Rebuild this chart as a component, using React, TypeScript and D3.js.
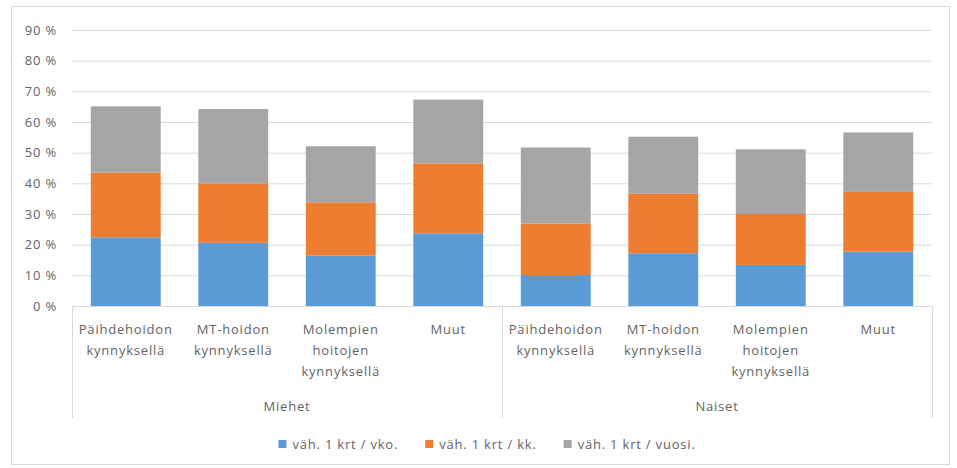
import React, { useEffect, useRef } from "react";
import * as d3 from "d3";

const groups = ["Miehet", "Naiset"];
const subCategories = [
  ["Päihdehoidon", "kynnyksellä"],
  ["MT-hoidon", "kynnyksellä"],
  ["Molempien", "hoitojen", "kynnyksellä"],
  ["Muut"],
];
const seriesNames = ["väh. 1 krt / vko.", "väh. 1 krt / kk.", "väh. 1 krt / vuosi."];
const weekly = [22.4, 20.6, 16.4, 23.7, 10.1, 17.2, 13.4, 17.7];
const monthly = [21.1, 19.4, 17.4, 22.8, 16.8, 19.5, 16.6, 19.5];
const yearly = [21.6, 24.2, 18.3, 20.8, 24.8, 18.5, 21.1, 19.4];
const yTicks = [0, 10, 20, 30, 40, 50, 60, 70, 80, 90];
const colors = ["#5B9BD5", "#ED7D31", "#A5A5A5"];

const W = 957;
const H = 468;

export default function App() {
  const ref = useRef<SVGSVGElement>(null);

  useEffect(() => {
    const svg = d3.select(ref.current);
    svg.selectAll("*").remove();

    const font = "'Open Sans', 'Noto Sans', sans-serif";
    const textColor = "#636363";
    const ls = 0.8;

    // chart border
    svg.append("rect").attr("x", 11.5).attr("y", 6.5).attr("width", 938).attr("height", 458)
      .attr("fill", "#fff").attr("stroke", "#D9D9D9").attr("stroke-width", 1);

    const left = 72, right = 932, top = 30, bottom = 306;
    const n = weekly.length;
    const idx = d3.range(n);
    const x = d3.scaleBand<number>().domain(idx).range([left, right]).paddingInner(0.35).paddingOuter(0.175);
    const y = d3.scaleLinear().domain([0, 90]).range([bottom, top]);

    // gridlines
    svg.append("g").selectAll("line").data(yTicks).join("line")
      .attr("x1", left).attr("x2", right)
      .attr("y1", (d) => y(d) + 0.5).attr("y2", (d) => y(d) + 0.5)
      .attr("stroke", "#D9D9D9").attr("stroke-width", 1);

    // y labels
    svg.append("g").selectAll("text").data(yTicks).join("text")
      .attr("x", 57).attr("y", (d) => y(d)).attr("dy", "0.35em")
      .attr("text-anchor", "end").attr("font-family", font).attr("font-size", 13)
      .attr("letter-spacing", ls)
      .attr("fill", textColor).text((d) => `${d} %`);

    // stacked bars
    const rows = idx.map((i) => ({ i, a: weekly[i], b: monthly[i], c: yearly[i] }));
    const stack = d3.stack<any>().keys(["a", "b", "c"]);
    const stacked = stack(rows);
    svg.append("g").selectAll("g").data(stacked).join("g")
      .attr("fill", (_d, k) => colors[k])
      .selectAll("rect").data((d) => d).join("rect")
      .attr("x", (d: any) => x(d.data.i)!)
      .attr("width", x.bandwidth())
      .attr("y", (d: any) => y(d[1]))
      .attr("height", (d: any) => y(d[0]) - y(d[1]));

    // axis line
    svg.append("line").attr("x1", left).attr("x2", right).attr("y1", bottom + 0.5).attr("y2", bottom + 0.5)
      .attr("stroke", "#D9D9D9");

    // group separators
    const perGroup = subCategories.length;
    const sepIdx = d3.range(groups.length + 1);
    const sepX = (g: number) => (g < groups.length ? x(g * perGroup)! - (x.step() * x.paddingInner()) / 2 : right);
    svg.append("g").selectAll("line").data(sepIdx).join("line")
      .attr("x1", (g) => (g === 0 ? left : sepX(g)) + 0.5)
      .attr("x2", (g) => (g === 0 ? left : sepX(g)) + 0.5)
      .attr("y1", bottom).attr("y2", 418)
      .attr("stroke", "#D9D9D9");

    // sub category labels
    const labG = svg.append("g");
    idx.forEach((i) => {
      const lines = subCategories[i % perGroup];
      const t = labG.append("text").attr("font-family", font).attr("font-size", 13)
        .attr("letter-spacing", ls)
        .attr("fill", textColor).attr("text-anchor", "middle");
      lines.forEach((l, k) => {
        t.append("tspan").attr("x", x(i)! + x.bandwidth() / 2).attr("y", 334 + k * 21).text(l);
      });
    });

    // group labels
    svg.append("g").selectAll("text").data(groups).join("text")
      .attr("x", (_d, g) => (x(g * perGroup)! + x(g * perGroup + perGroup - 1)! + x.bandwidth()) / 2)
      .attr("y", 411).attr("text-anchor", "middle").attr("font-family", font).attr("font-size", 13)
      .attr("letter-spacing", ls)
      .attr("fill", textColor).text((d) => d);

    // legend
    const leg = svg.append("g");
    const items = seriesNames.map((name, k) => {
      const g = leg.append("g");
      g.append("rect").attr("width", 8).attr("height", 8).attr("y", -4).attr("fill", colors[k]);
      const t = g.append("text").attr("x", 14).attr("dy", "0.35em").attr("font-family", font)
        .attr("letter-spacing", ls)
        .attr("font-size", 13).attr("fill", textColor).text(name);
      const w = 14 + (t.node() as SVGTextElement).getComputedTextLength();
      return { g, w };
    });
    const gap = 27;
    const total = d3.sum(items, (d) => d.w) + gap * (items.length - 1);
    let cx = 487 - total / 2;
    items.forEach((it) => {
      it.g.attr("transform", `translate(${cx},444)`);
      cx += it.w + gap;
    });
  }, []);

  return (
    <svg ref={ref} width={W} height={H} style={{ position: "absolute", left: 0, top: 0, background: "#fff" }} />
  );
}
